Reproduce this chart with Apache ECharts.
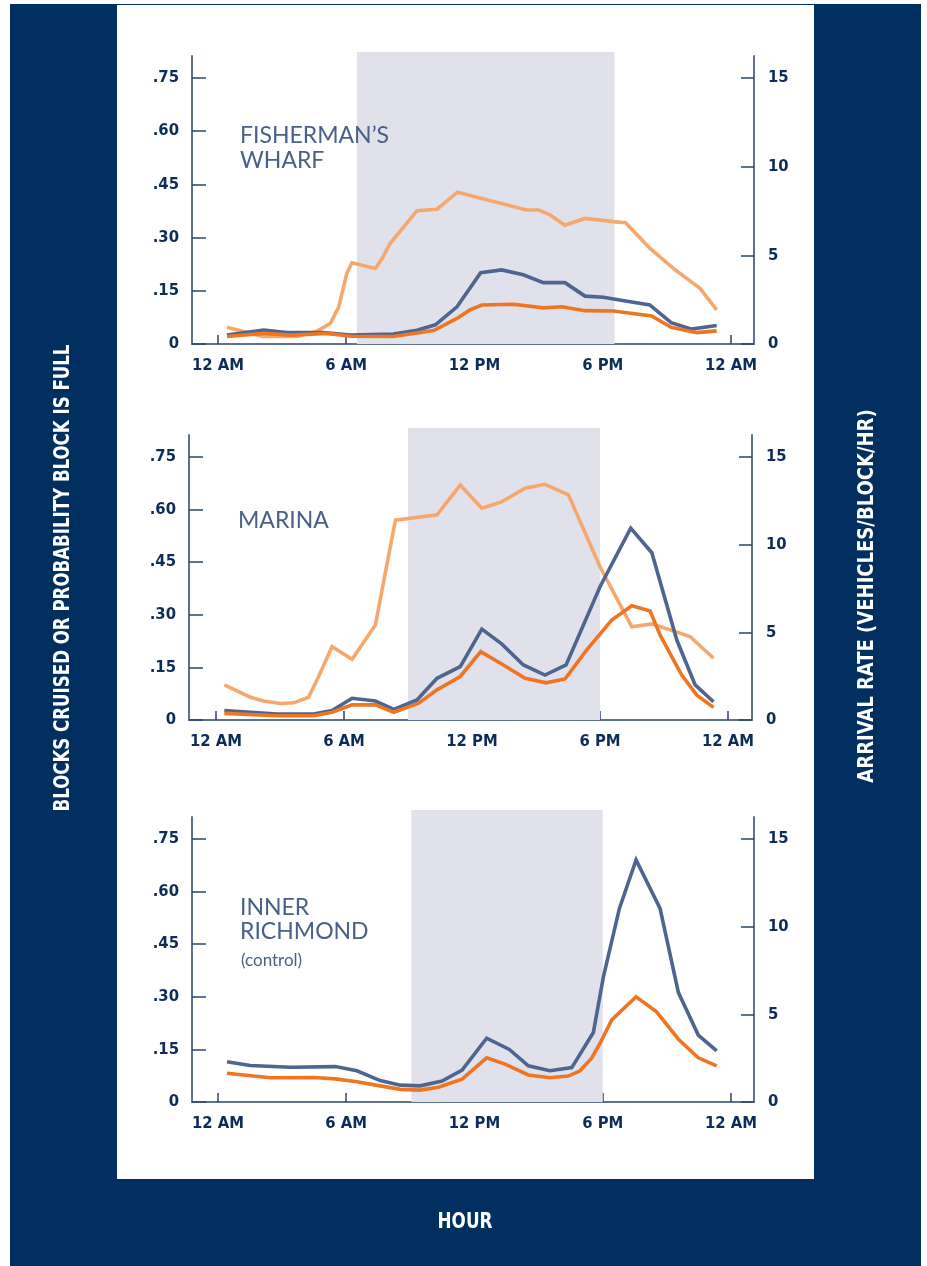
<!DOCTYPE html>
<html><head><meta charset="utf-8">
<script src="https://cdn.jsdelivr.net/npm/echarts@6/dist/echarts.min.js"></script>
<style>html,body{margin:0;padding:0;background:#fff}#c{width:927px;height:1266px}</style>
</head><body><div id="c"></div>
<script>
// ---- tick labels ----
const hourTicks = [0, 6, 12, 18, 24];
const hourLabels = ['12 AM', '6 AM', '12 PM', '6 PM', '12 AM'];
const leftTicks = [0, 0.15, 0.30, 0.45, 0.60, 0.75];
const leftTickLabels = ['0', '.15', '.30', '.45', '.60', '.75'];
const rightTicks = [0, 5, 10, 15];
const rightTickLabels = ['0', '5', '10', '15'];

// ---- panel titles ----
const panelTitles = [['FISHERMAN\u2019S', 'WHARF'], ['MARINA'], ['INNER', 'RICHMOND']];
const controlNote = '(control)';
const leftAxisTitle = 'BLOCKS CRUISED OR PROBABILITY BLOCK IS FULL';
const rightAxisTitle = 'ARRIVAL RATE (VEHICLES/BLOCK/HR)';
const xAxisTitle = 'HOUR';

// ---- shaded hours (start, end) ----
const shadeHours = [[6.5, 18.55], [9, 18], [9.05, 18]];

// ---- Fisherman's Wharf [hour, value on left scale] ----
const fwLight = [[0.42,0.047],[2.1,0.021],[3.7,0.021],[4.6,0.035],[5.26,0.058],[5.65,0.105],[6.03,0.2],[6.27,0.229],[7.36,0.213],[7.67,0.24],[8.06,0.284],[9.31,0.376],[10.25,0.38],[11.2,0.428],[14.44,0.378],[14.99,0.378],[15.53,0.364],[16.23,0.335],[17.17,0.354],[18.5,0.345],[19.07,0.342],[20.2,0.27],[21.3,0.213],[22.55,0.157],[23.33,0.096]];
const fwBlue = [[0.42,0.025],[2.14,0.039],[3.23,0.032],[4.94,0.032],[6.19,0.025],[8.2,0.028],[9.31,0.039],[10.17,0.054],[11.18,0.105],[12.29,0.201],[13.27,0.209],[14.28,0.195],[15.22,0.173],[16.23,0.173],[17.17,0.135],[18.03,0.132],[19.07,0.121],[20.2,0.11],[21.2,0.06],[22.16,0.042],[23.33,0.052]];
const fwOrange = [[0.42,0.021],[2.14,0.03],[3.38,0.025],[5.1,0.03],[6.19,0.022],[8.2,0.021],[10.09,0.038],[11.18,0.072],[11.79,0.096],[12.34,0.11],[13.82,0.112],[15.22,0.102],[16.08,0.105],[17.17,0.094],[18.5,0.093],[20.29,0.079],[21.2,0.047],[22.4,0.032],[23.33,0.037]];

// ---- Marina ----
const maLight = [[0.39,0.1],[1.61,0.065],[2.23,0.054],[3.02,0.047],[3.64,0.049],[4.34,0.065],[4.81,0.124],[5.44,0.209],[6.38,0.173],[7.47,0.271],[8.41,0.57],[10.36,0.585],[11.45,0.67],[12.46,0.604],[13.39,0.622],[14.49,0.661],[15.42,0.672],[16.52,0.642],[18.0,0.437],[19.49,0.266],[20.43,0.274],[22.22,0.238],[23.32,0.176]];
const maBlue = [[0.39,0.027],[2.86,0.017],[4.58,0.017],[5.44,0.027],[6.38,0.062],[7.47,0.054],[8.33,0.03],[9.42,0.057],[10.36,0.119],[11.45,0.152],[12.46,0.259],[13.39,0.217],[14.41,0.157],[15.42,0.128],[16.41,0.157],[18.0,0.38],[19.44,0.547],[20.43,0.477],[21.6,0.228],[22.46,0.1],[23.32,0.052]];
const maOrange = [[0.39,0.019],[2.86,0.012],[4.58,0.012],[5.44,0.022],[6.38,0.043],[7.47,0.043],[8.33,0.022],[9.5,0.048],[10.36,0.086],[11.45,0.124],[12.41,0.195],[13.47,0.157],[14.49,0.119],[15.47,0.106],[16.36,0.117],[17.38,0.2],[18.55,0.285],[19.49,0.326],[20.35,0.311],[20.82,0.242],[21.83,0.128],[22.54,0.071],[23.32,0.036]];

// ---- Inner Richmond ----
const irBlue = [[0.42,0.115],[1.51,0.104],[3.38,0.099],[5.49,0.101],[6.5,0.089],[7.59,0.061],[8.53,0.048],[9.46,0.046],[10.48,0.06],[11.42,0.091],[12.57,0.182],[13.63,0.15],[14.52,0.103],[15.53,0.089],[16.55,0.098],[17.56,0.198],[18.03,0.357],[18.78,0.552],[19.56,0.69],[20.68,0.552],[21.54,0.312],[22.47,0.191],[23.33,0.146]];
const irOrange = [[0.42,0.082],[2.45,0.069],[4.48,0.07],[5.49,0.066],[6.5,0.058],[7.59,0.046],[8.53,0.036],[9.46,0.034],[10.32,0.042],[11.42,0.065],[12.57,0.126],[13.43,0.108],[14.52,0.077],[15.53,0.069],[16.39,0.074],[16.94,0.089],[17.48,0.125],[17.87,0.167],[18.42,0.234],[19.56,0.3],[20.52,0.257],[21.54,0.179],[22.47,0.126],[23.33,0.103]];

const panelSeries = [
  [{ d: fwLight, c: '#f5a86e' }, { d: fwBlue, c: '#4e6590' }, { d: fwOrange, c: '#ee7623' }],
  [{ d: maLight, c: '#f5a86e' }, { d: maBlue, c: '#4e6590' }, { d: maOrange, c: '#ee7623' }],
  [{ d: irBlue, c: '#4e6590' }, { d: irOrange, c: '#ee7623' }]
];

// ---- layout ----
const grids = [
  { left: 192, right: 173, top: 56, height: 288 },
  { left: 189, right: 175, top: 435, height: 285 },
  { left: 192, right: 173, top: 817, height: 285 }
];
const xRanges = [[-1.216, 25.076], [-1.266, 25.125], [-1.216, 25.076]];
const yMax = [0.812, 0.8127, 0.8127];
const shadeTop = [0.823, 0.833, 0.833];

const NAVY = '#012f5f';
const LABEL = '#0d2c5a';
const AXIS = '#5d7292';
const TICK = '#2b446e';
const TITLE = '#4a6089';
const FONT = '"DejaVu Sans Condensed", "Liberation Sans Narrow", sans-serif';
const TICKFONT = 16.5;

function lookup(ticks, labels, v) {
  const i = ticks.findIndex(t => Math.abs(t - v) < 1e-6);
  return i >= 0 ? labels[i] : '';
}

const xAxes = [], yAxes = [], series = [];
grids.forEach((g, i) => {
  xAxes.push({
    type: 'value', gridIndex: i, min: xRanges[i][0], max: xRanges[i][1],
    axisLine: { show: true, onZero: false, lineStyle: { color: AXIS, width: 2 } },
    axisTick: { show: true, inside: true, length: 9, customValues: hourTicks, lineStyle: { color: TICK, width: 1.5 } },
    axisLabel: { customValues: hourTicks, formatter: v => lookup(hourTicks, hourLabels, v), margin: 13,
      color: LABEL, fontFamily: FONT, fontSize: TICKFONT, fontWeight: 'bold' },
    splitLine: { show: false }
  });
  yAxes.push({
    type: 'value', gridIndex: i, position: 'left', min: 0, max: yMax[i],
    axisLine: { show: true, onZero: false, lineStyle: { color: AXIS, width: 2 } },
    axisTick: { show: true, inside: true, length: 14, customValues: leftTicks, lineStyle: { color: TICK, width: 1.5 } },
    axisLabel: { customValues: leftTicks, formatter: v => lookup(leftTicks, leftTickLabels, v), margin: 13,
      color: LABEL, fontFamily: FONT, fontSize: TICKFONT, fontWeight: 'bold' },
    splitLine: { show: false }
  });
  yAxes.push({
    type: 'value', gridIndex: i, position: 'right', min: 0, max: yMax[i] * 20,
    axisLine: { show: true, onZero: false, lineStyle: { color: AXIS, width: 2 } },
    axisTick: { show: true, inside: true, length: 13, customValues: rightTicks, lineStyle: { color: TICK, width: 1.5 } },
    axisLabel: { customValues: rightTicks, formatter: v => lookup(rightTicks, rightTickLabels, v), margin: 14,
      color: LABEL, fontFamily: FONT, fontSize: TICKFONT, fontWeight: 'bold' },
    splitLine: { show: false }
  });
  series.push({
    type: 'custom', xAxisIndex: i, yAxisIndex: i * 2, z: 1, silent: true, clip: false,
    data: [[shadeHours[i][0], shadeHours[i][1], shadeTop[i]]],
    renderItem: (params, api) => {
      const p0 = api.coord([api.value(0), api.value(2)]);
      const p1 = api.coord([api.value(1), 0]);
      return { type: 'rect', shape: { x: p0[0], y: p0[1], width: p1[0] - p0[0], height: p1[1] - p0[1] },
        style: { fill: '#e0e1eb' } };
    }
  });
  panelSeries[i].forEach((s, k) => {
    series.push({
      type: 'line', xAxisIndex: i, yAxisIndex: i * 2, z: 3 + k, data: s.d,
      showSymbol: false, symbol: 'none', silent: true,
      lineStyle: { color: s.c, width: 3.6, join: 'miter' }
    });
  });
});

const titleStyle = (txt, x, y, size) => ({
  type: 'text', z: 100, x, y,
  style: { text: txt, fill: TITLE, font: size + 'px Lato, "Open Sans", sans-serif', textAlign: 'left', textVerticalAlign: 'middle' }
});

const graphic = [
  { type: 'rect', z: -100, shape: { x: 10, y: 4, width: 911, height: 1262 }, style: { fill: NAVY } },
  { type: 'rect', z: -99, shape: { x: 117, y: 5, width: 697, height: 1174 }, style: { fill: '#ffffff' } },
  titleStyle(panelTitles[0][0], 240, 136, 23),
  titleStyle(panelTitles[0][1], 240, 161, 23),
  titleStyle(panelTitles[1][0], 238, 521, 23),
  titleStyle(panelTitles[2][0], 240, 908, 23),
  titleStyle(panelTitles[2][1], 240, 932, 23),
  titleStyle(controlNote, 241, 961, 17),
  { type: 'text', z: 100, x: 63, y: 578, rotation: Math.PI / 2, scaleX: 0.84,
    style: { text: leftAxisTitle, fill: '#ffffff', font: 'bold 22px ' + FONT, textAlign: 'center', textVerticalAlign: 'middle' } },
  { type: 'text', z: 100, x: 867, y: 596, rotation: Math.PI / 2, scaleX: 0.91,
    style: { text: rightAxisTitle, fill: '#ffffff', font: 'bold 22px ' + FONT, textAlign: 'center', textVerticalAlign: 'middle' } },
  { type: 'text', z: 100, x: 465, y: 1222, scaleX: 0.85,
    style: { text: xAxisTitle, fill: '#ffffff', font: 'bold 22px ' + FONT, textAlign: 'center', textVerticalAlign: 'middle' } }
];

const chart = echarts.init(document.getElementById('c'), null, { renderer: 'canvas' });
chart.setOption({
  backgroundColor: '#ffffff',
  animation: false,
  grid: grids,
  xAxis: xAxes,
  yAxis: yAxes,
  series,
  graphic
});
</script></body></html>
